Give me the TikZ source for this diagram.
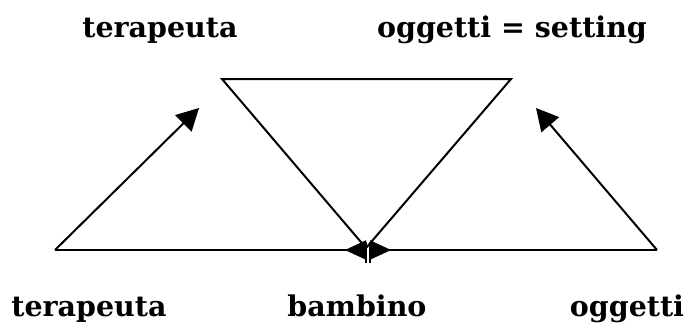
\documentclass[tikz,border=0pt]{standalone}
\usepackage{fontspec}
\setmainfont{DejaVu Serif}
\usetikzlibrary{arrows.meta}
\tikzset{
  lbl/.style={anchor=base,inner sep=0pt,font=\bfseries\fontsize{28.5}{32}\selectfont},
  ln/.style={line width=2pt,line cap=butt,line join=miter},
  tipA/.style={-{Triangle[length=22pt,width=23pt]}},
  tipB/.style={-{Triangle[reversed,length=21pt,width=19pt]}},
  tipC/.style={{Triangle[reversed,length=21pt,width=19pt]}-},
}
\begin{document}
\begin{tikzpicture}[x=1pt,y=-1pt]
\useasboundingbox (0,0) rectangle (686,322);
% labels
\node[lbl] (t1) at (160,37) {terapeuta};
\node[lbl] (os) at (512,37) {oggetti = setting};
\node[lbl] (t2) at (89,316) {terapeuta};
\node[lbl] (bb) at (357,316) {bambino};
\node[lbl] (og) at (627,316) {oggetti};
% points
\coordinate (BL) at (55,250);
\coordinate (BR) at (657,250);
\coordinate (TL) at (222,79);
\coordinate (TR) at (511,79);
\coordinate (V) at (366,248);
\coordinate (A1) at (199,108);
\coordinate (A2) at (536,108);
\coordinate (CL) at (366,250);
\coordinate (CR) at (370,250);
\coordinate (CL1) at (366,242);
\coordinate (CL2) at (366,263);
\coordinate (CR1) at (370,242);
\coordinate (CR2) at (370,263);
% triangle
\draw[ln] (TL) -- (TR) -- (V) -- cycle;
% arrows up
\draw[ln,tipA] (BL) -- (A1);
\draw[ln,tipA] (BR) -- (A2);
% bottom line
\draw[ln,tipB] (BL) -- (CL);
\draw[ln,tipC] (CR) -- (BR);
\draw[ln] (CL1) -- (CL2);
\draw[ln] (CR1) -- (CR2);
\end{tikzpicture}
\end{document}
